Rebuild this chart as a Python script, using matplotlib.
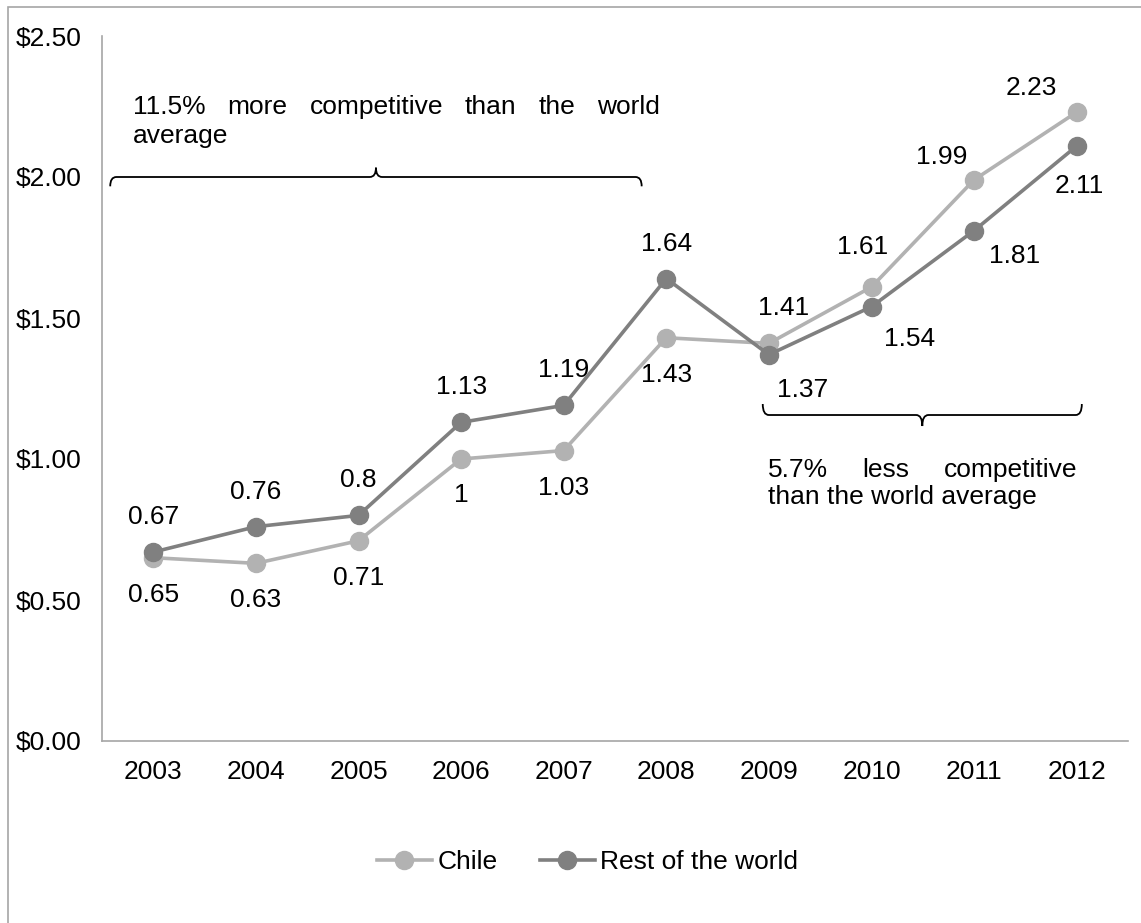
import matplotlib
matplotlib.use("Agg")
import matplotlib.pyplot as plt
from matplotlib.path import Path
from matplotlib.patches import PathPatch, Rectangle

plt.rcParams['font.family'] = ['Liberation Sans', 'DejaVu Sans']

years = ["2003", "2004", "2005", "2006", "2007", "2008", "2009", "2010", "2011", "2012"]
chile = [0.65, 0.63, 0.71, 1.00, 1.03, 1.43, 1.41, 1.61, 1.99, 2.23]
rest = [0.67, 0.76, 0.80, 1.13, 1.19, 1.64, 1.37, 1.54, 1.81, 2.11]
yticks = [0.0, 0.5, 1.0, 1.5, 2.0, 2.5]

# label offsets in pixels (dx, dy with y pointing up)
chile_off = [(0, -37), (0, -37), (0, -37), (0, -36), (0, -37), (0, -37),
             (15, 35), (-9, 40), (-32, 23), (-45, 24)]
rest_off = [(0, 35), (0, 35), (0, 35), (0, 35), (0, 35), (0, 35),
            (34, -35), (38, -32), (40, -25), (3, -40)]

FS = 19
W, H = 1141, 923
fig = plt.figure(figsize=(W / 100, H / 100), dpi=100)
ax = fig.add_axes([102 / W, 1 - 741 / H, 1026 / W, 705 / H])

c_light = "#b2b2b2"
c_dark = "#808080"
x = list(range(len(years)))
ax.plot(x, chile, color=c_light, lw=2.6, marker="o", ms=13, mec=c_light, label="Chile", zorder=3)
ax.plot(x, rest, color=c_dark, lw=2.6, marker="o", ms=13, mec=c_dark, label="Rest of the world", zorder=4)

px = 72 / 100
for i in x:
    ax.annotate(f"{chile[i]:g}", (i, chile[i]), xytext=(chile_off[i][0] * px, chile_off[i][1] * px),
                textcoords="offset points", ha="center", va="center", fontsize=FS)
    ax.annotate(f"{rest[i]:g}", (i, rest[i]), xytext=(rest_off[i][0] * px, rest_off[i][1] * px),
                textcoords="offset points", ha="center", va="center", fontsize=FS)

ax.set_xlim(-0.5, len(years) - 0.5)
ax.set_ylim(0, 2.5)
ax.set_xticks(x)
ax.set_xticklabels(years, fontsize=FS)
ax.set_yticks(yticks)
ax.set_yticklabels([f"${v:.2f}" for v in yticks], fontsize=FS)
ax.tick_params(axis="x", length=0, pad=14)
ax.tick_params(axis="y", length=0, pad=15)
for side in ["top", "right"]:
    ax.spines[side].set_visible(False)
for side in ["left", "bottom"]:
    ax.spines[side].set_color("#a6a6a6")
    ax.spines[side].set_linewidth(1.2)


def brace(x0, x1, y, h, r=0.06):
    # curly brace; h > 0 puts the middle tip up, ends bending down
    xm = (x0 + x1) / 2
    verts = [(x0, y - h * 0.3), (x0, y), (x0 + r, y),
             (xm - r, y), (xm, y), (xm, y + h * 0.3),
             (xm, y), (xm + r, y),
             (x1 - r, y), (x1, y), (x1, y - h * 0.3)]
    codes = [Path.MOVETO, Path.CURVE3, Path.CURVE3,
             Path.LINETO, Path.CURVE3, Path.CURVE3,
             Path.CURVE3, Path.CURVE3,
             Path.LINETO, Path.CURVE3, Path.CURVE3]
    ax.add_patch(PathPatch(Path(verts, codes), fill=False, lw=1.3, color="black", clip_on=False))


brace(-0.42, 4.76, 2.0, 0.11)
brace(5.94, 9.05, 1.156, -0.13)

renderer = fig.canvas.get_renderer()


def justified(words, x0, x1, y):
    texts = [fig.text(0, 1 - y / H, w, fontsize=FS, va="center", ha="left") for w in words]
    widths = [t.get_window_extent(renderer).width for t in texts]
    gap = (x1 - x0 - sum(widths)) / (len(words) - 1)
    pos = x0
    for t, w in zip(texts, widths):
        t.set_x(pos / W)
        pos += w + gap


justified(["11.5%", "more", "competitive", "than", "the", "world"], 133, 660, 107)
fig.text(133 / W, 1 - 136 / H, "average", fontsize=FS, va="center", ha="left")
justified(["5.7%", "less", "competitive"], 768, 1077, 470)
fig.text(768 / W, 1 - 497 / H, "than the world average", fontsize=FS, va="center", ha="left")

fig.legend(loc="center", bbox_to_anchor=(0.515, 1 - 862 / H), ncol=2, frameon=False,
           fontsize=FS, handlelength=2.1, handletextpad=0.2, columnspacing=1.6, markerscale=1.0)

fig.add_artist(Rectangle((8 / W, -0.1), 1.2, 1 - 7 / H + 0.1, transform=fig.transFigure,
                         fill=False, edgecolor="#a6a6a6", lw=1.2, clip_on=False))

fig.savefig("out.png", dpi=100)
